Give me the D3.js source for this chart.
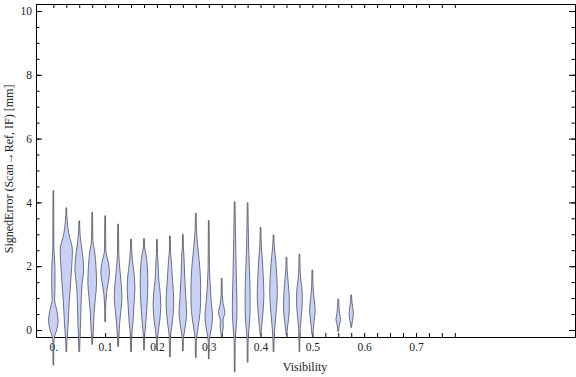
<!DOCTYPE html>
<html>
<head>
<meta charset="utf-8">
<script src="https://cdn.jsdelivr.net/npm/d3@7"></script>
<style>
  body { margin: 0; background: #fff; }
  svg text { font-family: "Liberation Serif", "Times New Roman", serif; fill: #222; }
</style>
</head>
<body>
<div id="chart"></div>
<script>
'use strict';

// bin centres (visibility) of the violins that have data
const visibility = [0, 0.025, 0.05, 0.075, 0.1, 0.125, 0.15, 0.175, 0.2, 0.225, 0.25, 0.275,
  0.3, 0.325, 0.35, 0.375, 0.4, 0.425, 0.45, 0.475, 0.5, 0.55, 0.575];

const errMin = [-1.1, -0.68, -0.68, -0.45, 0.26, -0.52, -0.68, -0.63, -0.63, -0.84, -0.66, -0.86,
  -0.91, -0.23, -1.31, -1.01, -0.16, -0.68, -0.16, -0.68, -0.16, -0.05, 0.08];

const errMax = [4.37, 3.83, 3.42, 3.69, 3.58, 3.32, 2.85, 2.87, 2.84, 2.95, 3.0, 3.66,
  3.43, 1.62, 4.02, 3.99, 3.22, 2.98, 2.28, 2.38, 1.88, 0.97, 1.1];

// relative density profile [error, density] per violin
const density = [
  [[2.6,0.03],[2.0,0.2],[1.4,0.22],[0.95,0.15],[0.63,0.5],[0.31,0.75],[0.0,0.5],[-0.2,0.15],[-0.4,0.02]],
  [[3.4,0.1],[3.03,0.35],[2.5,0.97],[1.98,0.85],[1.25,0.58],[0.84,0.42],[0.2,0.25],[-0.15,0.12],[-0.35,0.03]],
  [[3.0,0.08],[2.72,0.25],[2.19,0.6],[1.88,0.67],[1.46,0.42],[0.84,0.25],[0.21,0.17],[-0.15,0.08]],
  [[2.8,0.05],[2.5,0.33],[1.98,0.58],[1.46,0.67],[1.05,0.5],[0.52,0.25],[0,0.13],[-0.25,0.03]],
  [[2.5,0.05],[2.09,0.5],[1.78,0.67],[1.46,0.42],[1.15,0.17],[0.7,0.03]],
  [[2.4,0.05],[1.88,0.25],[1.36,0.5],[0.99,0.58],[0.63,0.42],[0.21,0.2],[-0.15,0.08]],
  [[2.5,0.05],[2.19,0.17],[1.67,0.5],[1.25,0.58],[0.73,0.42],[0.21,0.25],[-0.1,0.08]],
  [[2.6,0.05],[2.4,0.25],[1.98,0.5],[1.46,0.58],[0.94,0.5],[0.42,0.33],[0,0.13],[-0.25,0.03]],
  [[2.4,0.03],[2.09,0.13],[1.57,0.25],[1.15,0.5],[0.73,0.58],[0.31,0.42],[-0.05,0.17],[-0.3,0.03]],
  [[2.5,0.03],[2.19,0.17],[1.46,0.42],[0.94,0.58],[0.52,0.5],[0.1,0.25],[-0.15,0.08]],
  [[2.6,0.03],[2.3,0.13],[1.67,0.25],[1.05,0.42],[0.52,0.58],[0.21,0.42],[-0.1,0.17],[-0.3,0.03]],
  [[3.2,0.05],[2.82,0.17],[2.19,0.5],[1.46,0.75],[0.84,0.75],[0.31,0.5],[-0.1,0.17],[-0.35,0.03]],
  [[2.0,0.05],[1.46,0.17],[0.94,0.33],[0.42,0.58],[0,0.33],[-0.2,0.13],[-0.4,0.02]],
  [[1.1,0.05],[0.84,0.17],[0.54,0.47],[0.31,0.17],[0.1,0.2],[-0.08,0.08]],
  [[2.5,0.13],[1.46,0.25],[0.73,0.33],[0.21,0.25],[-0.15,0.1],[-0.4,0.02]],
  [[2.5,0.13],[1.46,0.33],[0.84,0.37],[0.2,0.25],[-0.15,0.08],[-0.4,0.02]],
  [[2.6,0.08],[2.19,0.25],[1.57,0.42],[1.05,0.5],[0.52,0.33],[0.1,0.13]],
  [[2.6,0.08],[2.3,0.25],[1.67,0.5],[1.15,0.58],[0.63,0.42],[0.1,0.17],[-0.2,0.06]],
  [[1.9,0.05],[1.46,0.25],[0.94,0.42],[0.63,0.42],[0.21,0.2],[0,0.06]],
  [[1.9,0.05],[1.57,0.17],[1.15,0.42],[0.84,0.42],[0.42,0.25],[0.05,0.08],[-0.25,0.02]],
  [[1.4,0.05],[1.05,0.2],[0.63,0.42],[0.31,0.25],[0.02,0.1]],
  [[0.75,0.05],[0.52,0.17],[0.33,0.33],[0.16,0.13]],
  [[0.9,0.05],[0.73,0.17],[0.52,0.3],[0.31,0.17],[0.18,0.05]]
];

// category ticks along the frame (every bin, 0 .. 0.775)
const binTicks = d3.range(32).map(i => i * 0.025);
const xTickValues = [0, 0.1, 0.2, 0.3, 0.4, 0.5, 0.6, 0.7];
const xTickLabels = ["0.", "0.1", "0.2", "0.3", "0.4", "0.5", "0.6", "0.7"];
const yTickValues = [0, 2, 4, 6, 8, 10];
const yTickLabels = ["0", "2", "4", "6", "8", "10"];
const yMinorTicks = d3.range(0, 10.01, 0.5);

const width = 576;
const height = 377;
const margin = { left: 36, right: 1, top: 4, bottom: 40 };

const x = d3.scaleLinear()
  .domain([-0.0335, 1.007])
  .range([margin.left, width - margin.right]);

const y = d3.scaleLinear()
  .domain([-0.22, 10.22])
  .range([height - margin.bottom, margin.top]);

const w = d3.scaleLinear().domain([0, 1]).range([0.35, 6.3]);

const svg = d3.select("#chart")
  .append("svg")
  .attr("width", width)
  .attr("height", height);

const xLabel = d => {
  const i = xTickValues.findIndex(v => Math.abs(v - d) < 1e-9);
  return i >= 0 ? xTickLabels[i] : "";
};
const yLabel = d => yTickLabels[yTickValues.indexOf(d)];

// frame axes
const axBottom = svg.append("g")
  .attr("transform", `translate(0, ${height - margin.bottom})`)
  .call(d3.axisBottom(x).tickValues(binTicks).tickSize(-4).tickPadding(6).tickFormat(xLabel));

const axTop = svg.append("g")
  .attr("transform", `translate(0, ${margin.top})`)
  .call(d3.axisTop(x).tickValues(binTicks).tickSize(-4).tickFormat(""));

const axLeftMinor = svg.append("g")
  .attr("transform", `translate(${margin.left}, 0)`)
  .call(d3.axisLeft(y).tickValues(yMinorTicks).tickSize(-3.5).tickFormat(""));

const axLeft = svg.append("g")
  .attr("transform", `translate(${margin.left}, 0)`)
  .call(d3.axisLeft(y).tickValues(yTickValues).tickSize(-6).tickPadding(4).tickFormat(yLabel));

const axRightMinor = svg.append("g")
  .attr("transform", `translate(${width - margin.right}, 0)`)
  .call(d3.axisRight(y).tickValues(yMinorTicks).tickSize(-3.5).tickFormat(""));

const axRight = svg.append("g")
  .attr("transform", `translate(${width - margin.right}, 0)`)
  .call(d3.axisRight(y).tickValues(yTickValues).tickSize(-6).tickFormat(""));

[axBottom, axTop, axLeftMinor, axLeft, axRightMinor, axRight].forEach(g => {
  g.select(".domain").attr("stroke", "#000").attr("stroke-width", 1);
  g.selectAll(".tick line").attr("stroke", "#000");
  g.selectAll(".tick text")
    .style("font-size", "11.5px")
    .style("font-family", '"Liberation Serif", serif')
    .attr("fill", "#222");
});
axLeftMinor.select(".domain").remove();
axRightMinor.select(".domain").remove();

// violins
const area = d3.area()
  .curve(d3.curveMonotoneY)
  .y(d => y(d[0]));

visibility.forEach((vis, i) => {
  const pts = [[errMax[i], 0], ...density[i], [errMin[i], 0]];
  const cx = x(vis);
  svg.append("path")
    .datum(pts)
    .attr("fill", "#c8d0f4")
    .attr("stroke", "#4a4a58")
    .attr("stroke-opacity", 0.85)
    .attr("stroke-width", 0.9)
    .attr("d", area.x0(d => cx - w(d[1])).x1(d => cx + w(d[1])));
});

// axis titles
svg.append("text")
  .attr("x", 305)
  .attr("y", 371)
  .attr("text-anchor", "middle")
  .style("font-size", "12px")
  .text("Visibility");

svg.append("text")
  .attr("transform", `translate(13, ${y(5.05)}) rotate(-90)`)
  .attr("text-anchor", "middle")
  .style("font-size", "12px")
  .text("SignedError (Scan\u2192Ref, IF) [mm]");
</script>
</body>
</html>
